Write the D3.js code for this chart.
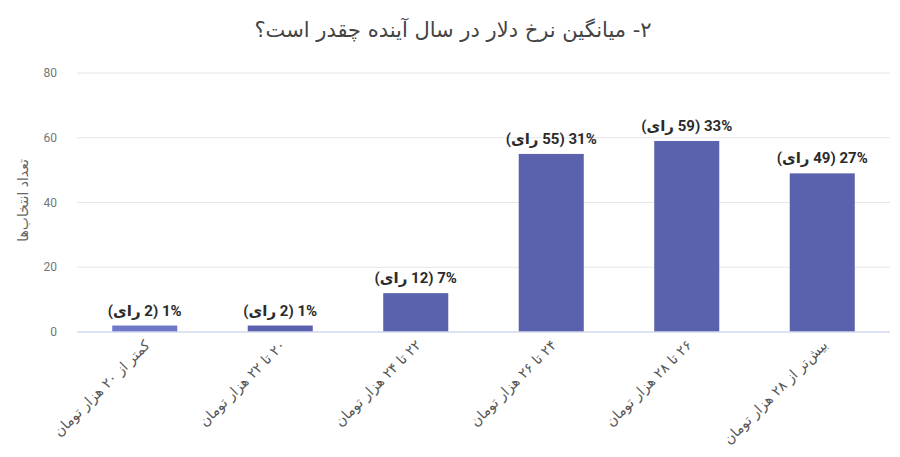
<!DOCTYPE html>
<html>
<head>
<meta charset="utf-8">
<script src="https://cdn.jsdelivr.net/npm/d3@7"></script>
<style>
  body { margin: 0; background: #fff; }
  svg { display: block; font-family: Roboto, "DejaVu Sans", sans-serif; }
</style>
</head>
<body>
<div id="chart"></div>
<script>
const categories = [
    "کمتر از ۲۰ هزار تومان",
    "۲۰ تا ۲۲ هزار تومان",
    "۲۲ تا ۲۴ هزار تومان",
    "۲۴ تا ۲۶ هزار تومان",
    "۲۶ تا ۲۸ هزار تومان",
    "بیش‌تر از ۲۸ هزار تومان"
];
const votes = [2, 2, 12, 55, 59, 49];
const percents = [1, 1, 7, 31, 33, 27];
const yTicks = [0, 20, 40, 60, 80];
const title = "۲- میانگین نرخ دلار در سال آینده چقدر است؟";
const yTitle = "تعداد انتخاب‌ها";

const W = 900, H = 457;
const margin = { top: 73, right: 10, bottom: 125, left: 77 };

const svg = d3.select("#chart").append("svg")
    .attr("width", W)
    .attr("height", H);

const x = d3.scaleBand()
    .domain(categories)
    .range([margin.left, W - margin.right])
    .paddingInner(0.52)
    .paddingOuter(0.26);

const y = d3.scaleLinear()
    .domain([0, 80])
    .range([H - margin.bottom, margin.top]);

// gridlines
svg.append("g")
    .selectAll("line")
    .data(yTicks.filter(d => d > 0))
    .join("line")
    .attr("x1", margin.left)
    .attr("x2", W - margin.right)
    .attr("y1", d => y(d))
    .attr("y2", d => y(d))
    .attr("stroke", "#e6e6e6");

// y tick labels
svg.append("g")
    .selectAll("text")
    .data(yTicks)
    .join("text")
    .attr("x", margin.left - 20)
    .attr("y", d => y(d))
    .attr("dy", "0.35em")
    .attr("text-anchor", "end")
    .attr("font-size", 12)
    .attr("fill", "#757575")
    .text(d => d);

// bars
svg.append("g")
    .selectAll("rect")
    .data(categories)
    .join("rect")
    .attr("x", d => x(d))
    .attr("width", x.bandwidth())
    .attr("y", (d, i) => y(votes[i]))
    .attr("height", (d, i) => y(0) - y(votes[i]))
    .attr("fill", (d, i) => i === 0 ? "#7079c9" : "#5b62ad");

// baseline
svg.append("line")
    .attr("x1", margin.left)
    .attr("x2", W - margin.right)
    .attr("y1", y(0))
    .attr("y2", y(0))
    .attr("stroke", "#d3daf0")
    .attr("stroke-width", 1.5);

// value labels
svg.append("g")
    .selectAll("text")
    .data(categories)
    .join("text")
    .attr("x", d => x(d) + x.bandwidth() / 2)
    .attr("y", (d, i) => y(votes[i]) - 10)
    .attr("direction", "rtl")
    .attr("text-anchor", "middle")
    .attr("font-size", 15)
    .attr("font-weight", "bold")
    .attr("fill", "#2b2b2b")
    .text((d, i) => `${percents[i]}% (${votes[i]} رای)`);

// x axis labels (rtl: "start" anchors the right-hand end)
svg.append("g")
    .selectAll("text")
    .data(categories)
    .join("text")
    .attr("transform", d => `translate(${x(d) + x.bandwidth() / 2 + 6},${y(0) + 14}) rotate(-45)`)
    .attr("direction", "rtl")
    .attr("text-anchor", "start")
    .attr("font-family", "'DejaVu Sans', sans-serif")
    .attr("font-size", 14)
    .attr("fill", "#555")
    .text(d => d);

// y axis title
svg.append("text")
    .attr("transform", `translate(28,${(y(0) + y(80)) / 2 - 2}) rotate(-90)`)
    .attr("direction", "rtl")
    .attr("text-anchor", "middle")
    .attr("font-family", "'DejaVu Sans', sans-serif")
    .attr("font-size", 14)
    .attr("fill", "#666")
    .text(yTitle);

// chart title
svg.append("text")
    .attr("x", 453)
    .attr("y", 37)
    .attr("direction", "rtl")
    .attr("text-anchor", "middle")
    .attr("font-family", "'DejaVu Sans', sans-serif")
    .attr("font-size", 21)
    .attr("fill", "#444")
    .text(title);
</script>
</body>
</html>
